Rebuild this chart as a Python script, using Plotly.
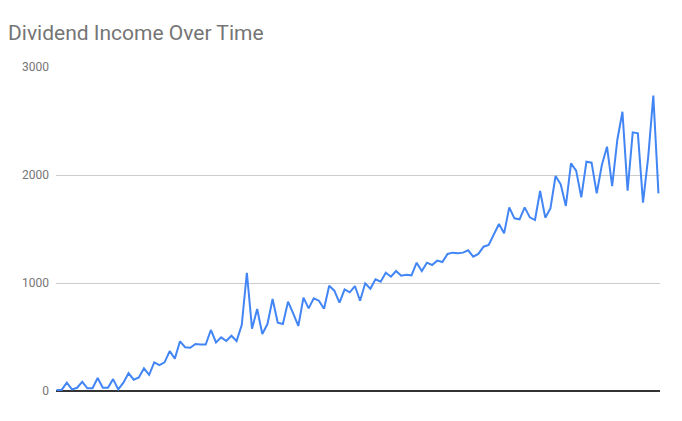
import plotly.graph_objects as go

# monthly dividend income
months = list(range(1, 119))
income = [
    10, 10, 77, 15, 30, 85, 25, 25, 120, 30,
    30, 110, 15, 77, 165, 105, 125, 210, 150, 265,
    240, 265, 370, 300, 460, 405, 400, 435, 430, 430,
    565, 450, 497, 463, 512, 463, 611, 1095, 577, 759,
    528, 620, 852, 632, 620, 827, 719, 602, 864, 765,
    858, 836, 762, 975, 929, 818, 941, 914, 972, 836,
    997, 947, 1034, 1012, 1095, 1058, 1111, 1068, 1077, 1071,
    1188, 1111, 1188, 1167, 1207, 1194, 1269, 1281, 1275, 1281,
    1303, 1244, 1269, 1336, 1352, 1444, 1546, 1460, 1700, 1599,
    1590, 1700, 1608, 1583, 1852, 1605, 1691, 1991, 1914, 1713,
    2108, 2040, 1793, 2123, 2114, 1830, 2093, 2262, 1898, 2324,
    2586, 1855, 2395, 2386, 1744, 2164, 2735, 1830,
]
y_ticks = [0, 1000, 2000, 3000]

fig = go.Figure(
    go.Scatter(
        x=months,
        y=income,
        mode="lines",
        line=dict(color="#4285F4", width=2),
        hoverinfo="x+y",
    )
)

# the page body has an 8px margin, so the figure is sized to fit inside it
fig.update_layout(
    width=674,
    height=413,
    title=dict(
        text="Dividend Income Over Time",
        x=0, xanchor="left",
        y=0.94, yanchor="middle",
        pad=dict(l=0),
        font=dict(family="Roboto, sans-serif", size=21, color="#757575"),
    ),
    paper_bgcolor="white",
    plot_bgcolor="white",
    font=dict(family="Roboto, sans-serif", color="#757575", size=12),
    showlegend=False,
    margin=dict(l=48, r=22, t=59, b=30),
    xaxis=dict(
        range=[months[0] - 0.1, months[-1] + 0.3],
        showticklabels=False,
        showgrid=False,
        zeroline=False,
        ticks="",
        showline=False,
    ),
    yaxis=dict(
        range=[0, 3000],
        tickvals=y_ticks,
        ticktext=[str(v) for v in y_ticks],
        showgrid=True,
        gridcolor="#cccccc",
        gridwidth=1,
        zeroline=True,
        zerolinecolor="#333333",
        zerolinewidth=2,
        ticks="",
        ticklabelstandoff=6,
        tickfont=dict(size=12, color="#757575"),
    ),
)

fig.write_html("out.html")
